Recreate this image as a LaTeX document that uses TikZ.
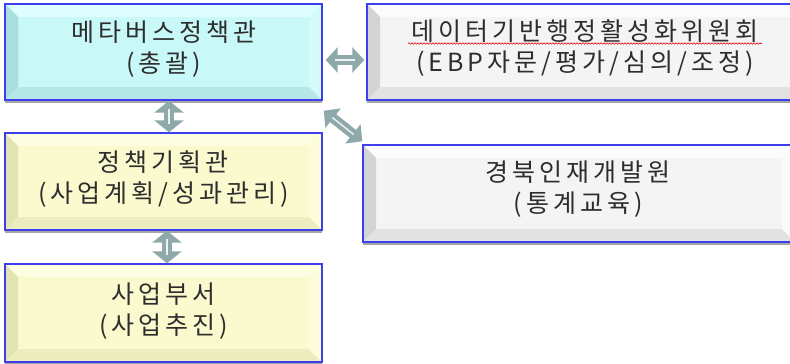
\documentclass[tikz,border=0pt]{standalone}
\usepackage{fontspec}
\setmainfont{Noto Sans CJK KR}
\usetikzlibrary{arrows.meta,shadows,decorations.pathmorphing}
\definecolor{bordc}{RGB}{62,62,238}
\definecolor{arrc}{RGB}{143,168,170}
\definecolor{textc}{RGB}{45,45,45}
\definecolor{cyF}{RGB}{200,248,248}
\definecolor{cyT}{RGB}{222,253,253}
\definecolor{cyL}{RGB}{168,222,222}
\definecolor{cyB}{RGB}{182,232,232}
\definecolor{cyR}{RGB}{212,250,250}
\definecolor{ywF}{RGB}{250,250,206}
\definecolor{ywT}{RGB}{253,253,226}
\definecolor{ywL}{RGB}{226,226,178}
\definecolor{ywB}{RGB}{236,236,190}
\definecolor{ywR}{RGB}{252,252,218}
\definecolor{gyF}{RGB}{244,244,244}
\definecolor{gyT}{RGB}{252,252,252}
\definecolor{gyL}{RGB}{212,212,212}
\definecolor{gyB}{RGB}{226,226,226}
\definecolor{gyR}{RGB}{250,250,250}
\def\bvw{13pt}
\tikzset{
  box/.style n args={5}{draw=bordc, line width=1.4pt, fill=#1, inner sep=0pt,
    drop shadow={shadow xshift=0pt, shadow yshift=-3pt, opacity=.35, fill=black},
    path picture={
      \coordinate (pnw) at (path picture bounding box.north west);
      \coordinate (pne) at (path picture bounding box.north east);
      \coordinate (psw) at (path picture bounding box.south west);
      \coordinate (pse) at (path picture bounding box.south east);
      \fill[#2] (pnw) -- (pne) -- ([shift={(-\bvw,-\bvw)}]pne) -- ([shift={(\bvw,-\bvw)}]pnw) -- cycle;
      \fill[#3] (pnw) -- (psw) -- ([shift={(\bvw,\bvw)}]psw) -- ([shift={(\bvw,-\bvw)}]pnw) -- cycle;
      \fill[#4] (psw) -- (pse) -- ([shift={(-\bvw,\bvw)}]pse) -- ([shift={(\bvw,\bvw)}]psw) -- cycle;
      \fill[#5] (pne) -- (pse) -- ([shift={(-\bvw,\bvw)}]pse) -- ([shift={(-\bvw,-\bvw)}]pne) -- cycle;
    }},
  cyanbox/.style={box={cyF}{cyT}{cyL}{cyB}{cyR}},
  yellowbox/.style={box={ywF}{ywT}{ywL}{ywB}{ywR}},
  graybox/.style={box={gyF}{gyT}{gyL}{gyB}{gyR}},
  txt/.style={align=center, text=textc, inner sep=0pt,
    font=\fontsize{25}{31}\selectfont\addfontfeature{LetterSpace=16}},
  dblarr/.style={line width=10pt, draw=arrc,
    {Triangle[width=#1,length=12pt]}-{Triangle[width=#1,length=12pt]}},
  hilite/.style={draw=white, line width=1.4pt, opacity=.85}
}
\begin{document}
\begin{tikzpicture}[x=1pt,y=1pt]
\useasboundingbox (0,0) rectangle (790,-364);
\fill[white] (0,0) rectangle (790,-364);

\node[cyanbox, minimum width=317pt, minimum height=96pt] (b1) at (163.5,-52) {};
\node[graybox, minimum width=436pt, minimum height=96pt] (b2) at (585,-52) {};
\node[yellowbox, minimum width=317pt, minimum height=97pt] (b3) at (163.5,-181.5) {};
\node[yellowbox, minimum width=317pt, minimum height=98pt] (b4) at (163.5,-313) {};
\node[graybox, minimum width=432pt, minimum height=97pt] (b5) at (579,-193.5) {};

\node[txt] (b1t) at ([yshift=3pt]b1.center) {메타버스정책관\\(총괄)};
\node[txt] (b2t) at ([yshift=3.5pt]b2.center) {데이터기반행정활성화위원회\\(EBP자문/평가/심의/조정)};
\node[txt] (b3t) at ([yshift=2pt]b3.center) {정책기획관\\(사업계획/성과관리)};
\node[txt] (b4t) at ([yshift=1.5pt]b4.center) {사업부서\\(사업추진)};
\node[txt] (b5t) at ([yshift=4.5pt,xshift=-1pt]b5.center) {경북인재개발원\\(통계교육)};

\draw[red!85!black, line width=0.6pt, decorate,
  decoration={snake, amplitude=0.7pt, segment length=3pt}] (408,-43.5) -- (762,-43.5);

% connectors
\draw[dblarr=25pt, shorten <=3pt, shorten >=2pt] ([yshift=-8pt]b1.east) -- ([yshift=-8pt]b2.west);
\draw[hilite, shorten <=12pt, shorten >=11pt] ([yshift=-8pt]b1.east) -- ([yshift=-8pt]b2.west);

\draw[dblarr=29pt] ([xshift=5.5pt]b1.south) -- ([xshift=5.5pt]b3.north);
\draw[hilite, shorten <=8pt, shorten >=8pt] ([xshift=5.5pt]b1.south) -- ([xshift=5.5pt]b3.north);

\draw[dblarr=29pt] ([xshift=3.5pt]b3.south) -- ([xshift=3.5pt]b4.north);
\draw[hilite, shorten <=8pt, shorten >=8pt] ([xshift=3.5pt]b3.south) -- ([xshift=3.5pt]b4.north);

\draw[dblarr=24pt] ([shift={(1pt,-10pt)}]b1.south east) -- ([shift={(0pt,3pt)}]b5.north west);
\draw[hilite, shorten <=11pt, shorten >=11pt] ([shift={(1pt,-10pt)}]b1.south east) -- ([shift={(0pt,3pt)}]b5.north west);
\end{tikzpicture}
\end{document}
